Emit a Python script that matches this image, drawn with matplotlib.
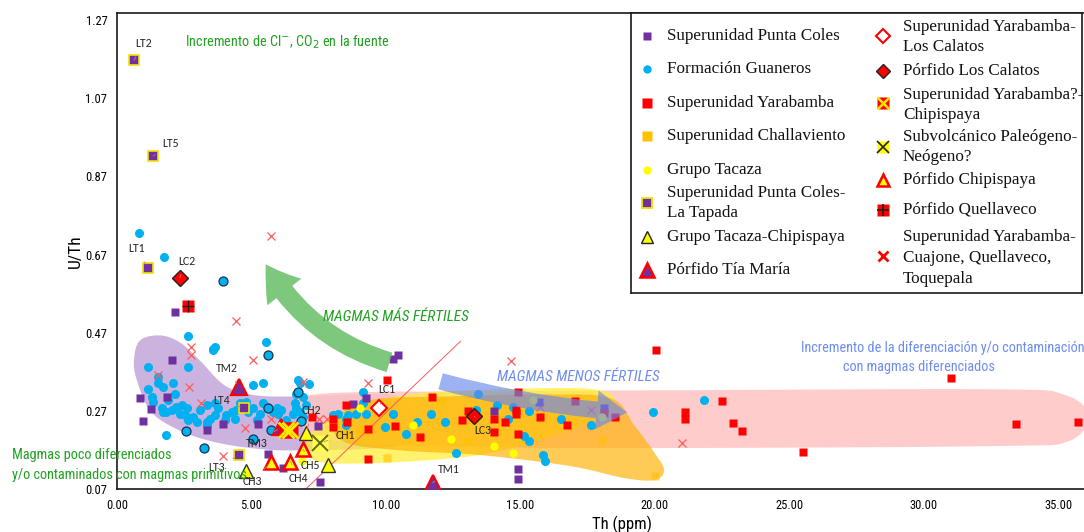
import numpy as np
import matplotlib
matplotlib.use("Agg")
import matplotlib.pyplot as plt
from matplotlib.patches import Polygon, FancyArrowPatch
from matplotlib import font_manager

# ---------------------------------------------------------------- data (Th ppm, U/Th)
pc_th = [0.85, 0.97, 1.26, 2.04, 2.15, 1.86, 3.34, 3.93, 5.23, 6.12, 5.60, 6.16, 7.54,
         7.46, 8.76, 9.24, 10.25, 10.43, 14.03, 15.70, 18.11, 14.92, 14.92]
pc_uth = [0.302, 0.243, 0.274, 0.399, 0.524, 0.305, 0.221, 0.236, 0.236, 0.228, 0.159,
          0.124, 0.088, 0.231, 0.287, 0.302, 0.402, 0.412, 0.269, 0.292, 0.277, 0.121, 0.096]

gu_th = [1.14, 1.53, 1.53, 1.16, 1.29, 1.35, 1.72, 2.09, 2.15, 1.90, 2.21, 2.40, 1.66, 1.72,
         1.84, 2.03, 2.34, 2.52, 2.59, 2.65, 2.83, 2.96, 3.08, 3.33, 3.64, 3.33, 3.33, 3.45,
         3.64, 3.76, 4.01, 4.07, 4.26, 4.38, 4.44, 4.57, 4.81, 4.87, 5.06, 5.19, 5.31, 5.43,
         5.56, 5.43, 5.06, 5.80, 5.93, 5.99, 6.11, 6.30, 6.54, 6.61, 6.67, 6.79, 6.73, 6.92,
         7.04, 6.67, 6.79, 6.92, 1.84, 3.57, 0.83, 1.74, 2.65, 3.64, 3.58, 5.53, 2.65, 7.14,
         8.03, 8.22, 8.53, 8.59, 8.53, 9.14, 9.14, 9.27, 8.90, 10.26, 10.75, 11.68, 12.18,
         12.61, 13.41, 14.12, 14.71, 15.33, 14.53, 15.14, 15.33, 15.82, 15.92, 16.51, 17.62,
         19.91, 9.95, 11.15, 13.33, 21.83]
gu_uth = [0.382, 0.356, 0.340, 0.327, 0.305, 0.293, 0.331, 0.340, 0.314, 0.297, 0.280, 0.284,
          0.276, 0.267, 0.267, 0.272, 0.263, 0.259, 0.276, 0.246, 0.254, 0.242, 0.272, 0.284,
          0.289, 0.242, 0.233, 0.250, 0.259, 0.276, 0.246, 0.259, 0.267, 0.250, 0.272, 0.289,
          0.293, 0.267, 0.276, 0.246, 0.263, 0.289, 0.280, 0.340, 0.335, 0.267, 0.276, 0.263,
          0.272, 0.246, 0.263, 0.289, 0.314, 0.340, 0.348, 0.305, 0.284, 0.276, 0.267, 0.254,
          0.208, 0.425, 0.725, 0.664, 0.461, 0.433, 0.428, 0.446, 0.382, 0.338, 0.259, 0.263,
          0.250, 0.259, 0.233, 0.318, 0.289, 0.263, 0.263, 0.261, 0.212, 0.263, 0.242, 0.161,
          0.314, 0.284, 0.280, 0.270, 0.248, 0.205, 0.193, 0.157, 0.141, 0.250, 0.233, 0.267,
          0.229, 0.242, 0.272, 0.299]
gu_out_th = [2.56, 3.24, 5.06, 5.74, 5.62, 6.73, 6.83, 5.62, 3.95]
gu_out_uth = [0.218, 0.174, 0.199, 0.220, 0.276, 0.318, 0.244, 0.412, 0.601]

ya_th = [10.03, 8.53, 7.25, 8.03, 8.03, 8.56, 9.33, 10.32, 11.25, 11.72, 9.33, 13.04, 12.83,
         14.92, 14.03, 14.44, 14.84, 14.84, 15.73, 16.72, 14.03, 14.92, 18.51, 17.04, 18.11,
         20.03, 21.12, 21.12, 22.51, 22.91, 23.22, 25.51, 31.01, 33.42, 35.71]
ya_uth = [0.350, 0.286, 0.253, 0.250, 0.229, 0.242, 0.223, 0.231, 0.203, 0.305, 0.146, 0.270,
          0.246, 0.317, 0.250, 0.242, 0.272, 0.261, 0.253, 0.235, 0.215, 0.212, 0.254, 0.294,
          0.264, 0.425, 0.267, 0.250, 0.294, 0.240, 0.219, 0.165, 0.355, 0.236, 0.242]

ch_th = [12.05, 10.02, 13.04, 18.03, 20.01, 9.02]
ch_uth = [0.292, 0.150, 0.192, 0.195, 0.104, 0.222]

ta_th = [9.02, 11.00, 12.42, 6.86, 14.03, 14.71, 15.48, 18.03]
ta_uth = [0.277, 0.235, 0.199, 0.142, 0.180, 0.161, 0.297, 0.253]

lt_th = [0.63, 1.34, 1.15, 4.73, 4.53]
lt_uth = [1.167, 0.922, 0.636, 0.277, 0.157]

tc_th = [4.81, 7.04, 7.84]
tc_uth = [0.116, 0.213, 0.131]

tm_th = [4.53, 11.74, 6.09]
tm_uth = [0.331, 0.086, 0.228]

ylc_th = [9.73]
ylc_uth = [0.277]

plc_th = [2.34, 13.29]
plc_uth = [0.611, 0.256]

ych_th = [6.30, 6.45]
ych_uth = [0.221, 0.221]

sv_th = [7.54]
sv_uth = [0.188]

pch_th = [5.74, 6.45, 6.92]
pch_uth = [0.140, 0.140, 0.172]

pq_th = [2.65]
pq_uth = [0.538]

cq_th = [5.74, 4.44, 2.74, 2.74, 5.04, 1.53, 2.68, 3.14, 4.75, 5.74, 6.92, 3.95, 7.82, 9.33,
         7.51, 14.63, 15.74, 17.62, 21.00]
cq_uth = [0.718, 0.499, 0.433, 0.412, 0.399, 0.361, 0.331, 0.290, 0.225, 0.249, 0.344, 0.154,
          0.248, 0.341, 0.248, 0.397, 0.280, 0.273, 0.188]

x_ticks = [0, 5, 10, 15, 20, 25, 30, 35]
y_ticks = [0.07, 0.27, 0.47, 0.67, 0.87, 1.07, 1.27]

# ---------------------------------------------------------------- fonts / colours
names = {f.name for f in font_manager.fontManager.ttflist}


def pick(*cands):
    for c in cands:
        if c in names:
            return c
    return "DejaVu Sans"


SANS = pick("Liberation Sans Narrow", "Arial Narrow", "Roboto Condensed", "PT Sans Narrow",
            "Archivo Narrow", "Liberation Sans")
SERIF = pick("Liberation Serif", "Tinos", "DejaVu Serif")
LBL = pick("Carlito", "Lato", "DejaVu Sans")

PURPLE = "#7030A0"
CYAN = "#00B0F0"
RED = "#FF0000"
ORANGE = "#FFC000"
YELLOW = "#FFFF00"
GREEN_TXT = "#21A121"
BLUE_TXT = "#6E8DF0"
NOTE_FS = 10.3

fig = plt.figure(figsize=(10.84, 5.32), dpi=100)
ax = fig.add_axes([117 / 1084, 43 / 532, 967 / 1084, 476 / 532])
ax.set_xlim(0, 35.95)
ax.set_ylim(0.07, 1.288)


def smooth_closed(pts, n=24):
    p = np.asarray(pts, float)
    N = len(p)
    t = np.linspace(0, 1, n, endpoint=False)[:, None]
    segs = []
    for i in range(N):
        p0, p1, p2, p3 = p[i - 1], p[i], p[(i + 1) % N], p[(i + 2) % N]
        segs.append(0.5 * (2 * p1 + (-p0 + p2) * t + (2 * p0 - 5 * p1 + 4 * p2 - p3) * t ** 2
                           + (-p0 + 3 * p1 - 3 * p2 + p3) * t ** 3))
    return np.vstack(segs)


# compositional fields drawn behind the samples
punta_field = [(0.63, 0.399), (0.85, 0.450), (1.60, 0.463), (2.34, 0.445), (3.08, 0.399),
               (4.01, 0.335), (5.12, 0.310), (6.79, 0.307), (8.65, 0.312), (10.5, 0.307),
               (11.06, 0.246), (10.5, 0.182), (6.79, 0.169), (4.94, 0.175), (3.34, 0.195),
               (2.08, 0.228), (1.22, 0.272), (0.74, 0.348)]
yara_field = [(6.79, 0.259), (7.35, 0.312), (14.22, 0.320), (21.64, 0.323), (32.78, 0.325),
              (35.19, 0.312), (36.12, 0.259), (35.37, 0.192), (32.78, 0.180), (21.64, 0.175),
              (14.22, 0.177), (7.91, 0.195)]
tacaza_field = [(6.98, 0.182), (7.54, 0.233), (9.02, 0.284), (11.25, 0.315), (14.22, 0.325),
                (17.19, 0.328), (18.37, 0.312), (18.37, 0.277), (17.56, 0.241), (15.70, 0.195),
                (13.47, 0.157), (10.50, 0.139), (7.91, 0.136), (7.09, 0.154)]
challa_field = [(8.09, 0.246), (9.39, 0.297), (12.36, 0.307), (16.07, 0.312), (18.37, 0.302),
                (19.23, 0.233), (19.97, 0.164), (20.34, 0.118), (19.97, 0.093), (18.86, 0.098),
                (16.82, 0.129), (13.47, 0.157), (10.50, 0.169), (8.46, 0.190)]

for pts, col, a, z in [(punta_field, "#C4A6DA", 0.85, 1.0),
                       (yara_field, "#FFC4C4", 0.85, 1.1),
                       (tacaza_field, "#FFEE33", 0.72, 1.2),
                       (challa_field, "#FFB000", 0.66, 1.3)]:
    ax.add_patch(Polygon(smooth_closed(pts), closed=True, facecolor=col, edgecolor="none",
                         alpha=a, zorder=z))

ax.plot([7.02, 12.77], [0.07, 0.448], color="#FF5A5A", lw=0.7, zorder=2)

# ---------------------------------------------------------------- samples
ax.plot(ch_th, ch_uth, "s", ms=6, color=ORANGE, alpha=0.6, mec="none", zorder=1.5)
ax.plot(gu_th, gu_uth, "o", ms=6.5, color=CYAN, mec="none", zorder=3)
ax.plot(gu_out_th, gu_out_uth, "o", ms=6.5, color=CYAN, mec="#1A3550", mew=0.9, zorder=3)
ax.plot(cq_th, cq_uth, "x", ms=6, color="#FF5A5A", mew=0.9, zorder=3)
ax.plot(pc_th, pc_uth, "s", ms=5.5, color=PURPLE, mec="none", zorder=3)
ax.plot(ya_th, ya_uth, "s", ms=6, color=RED, mec="none", zorder=3)
ax.plot(ta_th, ta_uth, "o", ms=6, color=YELLOW, mec="none", zorder=3)
ax.plot(lt_th, lt_uth, "s", ms=6.5, color=PURPLE, mec="#F2E200", mew=1.2, zorder=3.2)
ax.plot(tc_th, tc_uth, "^", ms=10, color=YELLOW, mec="#333333", mew=1.0, zorder=3.3)
ax.plot(pch_th, pch_uth, "^", ms=10, color=YELLOW, mec=RED, mew=1.8, zorder=3.3)
ax.plot(tm_th, tm_uth, "^", ms=11, color=PURPLE, mec=RED, mew=1.6, zorder=3.3)
ax.plot(ych_th, ych_uth, "s", ms=12, color=RED, mec="none", zorder=3.4)
ax.plot(ych_th, ych_uth, "x", ms=12, color="#FFE800", mew=2, zorder=3.5)
ax.plot(sv_th, sv_uth, "s", ms=11, color="#FFFF50", mec="none", zorder=3.4)
ax.plot(sv_th, sv_uth, "x", ms=11, color="#5E6B10", mew=1.4, zorder=3.5)
ax.plot(ylc_th, ylc_uth, "D", ms=8, mfc="white", mec=RED, mew=1.5, zorder=3.4)
ax.plot(plc_th, plc_uth, "D", ms=8.5, color=RED, mec="#222222", mew=1.0, zorder=3.4)
ax.plot(pq_th, pq_uth, "s", ms=8, color=RED, mec="none", zorder=3.4)
ax.plot(pq_th, pq_uth, "+", ms=8, color="#222222", mew=1.0, zorder=3.5)

# ---------------------------------------------------------------- trend arrows
green_arrow = FancyArrowPatch((10.13, 0.394), (5.53, 0.645),
                              connectionstyle="arc3,rad=-0.2",
                              arrowstyle="simple,head_length=2.4,head_width=3.1,tail_width=1.45",
                              mutation_scale=10, color="#68BF68", alpha=0.85, lw=0,
                              shrinkA=0, shrinkB=0, zorder=4)
ax.add_patch(green_arrow)
blue_arrow = FancyArrowPatch((12.03, 0.3455), (18.97, 0.266),
                             connectionstyle="arc3,rad=0.05",
                             arrowstyle="simple,head_length=2.2,head_width=2.8,tail_width=1.2",
                             mutation_scale=10, color="#6A88EC", alpha=0.65, lw=0,
                             shrinkA=0, shrinkB=0, zorder=4)
ax.add_patch(blue_arrow)

# ---------------------------------------------------------------- sample labels
labels = [("LT2", (0.63, 1.167), (0.97, 1.210)),
          ("LT5", (1.34, 0.922), (2.00, 0.953)),
          ("LT1", (1.15, 0.636), (0.71, 0.685)),
          ("LC2", (2.34, 0.611), (2.60, 0.652)),
          ("TM2", (4.53, 0.331), (4.08, 0.379)),
          ("LT4", (4.73, 0.277), (3.90, 0.297)),
          ("TM3", (6.09, 0.228), (5.20, 0.187)),
          ("LT3", (4.53, 0.157), (3.71, 0.126)),
          ("CH3", (5.74, 0.140), (5.05, 0.090)),
          ("CH4", (6.45, 0.140), (6.76, 0.098)),
          ("CH5", (6.92, 0.172), (7.20, 0.131)),
          ("CH1", (7.54, 0.188), (8.50, 0.208)),
          ("CH2", (7.04, 0.213), (7.24, 0.272)),
          ("LC1", (9.73, 0.277), (10.02, 0.325)),
          ("LC3", (13.29, 0.256), (13.59, 0.220)),
          ("TM1", (11.74, 0.086), (12.32, 0.121))]
for txt, xy, xytext in labels:
    ax.annotate(txt, xy=xy, xytext=xytext, ha="center", va="center", fontsize=8.5,
                family=LBL, color="#262626", zorder=5,
                arrowprops=dict(arrowstyle="-", color="#E07878", lw=0.6,
                                shrinkA=4, shrinkB=3))

# ---------------------------------------------------------------- annotations
ax.text(2.52, 1.213, "Incremento de Cl$^{-}$, CO$_{2}$ en la fuente", color=GREEN_TXT,
        fontsize=NOTE_FS, family=SANS, ha="left", va="center")
ax.text(7.65, 0.509, "MAGMAS MÁS FÉRTILES", color=GREEN_TXT, fontsize=11, family=SANS,
        style="italic", ha="left", va="center", zorder=5)
ax.text(14.14, 0.356, "MAGMAS MENOS FÉRTILES", color=BLUE_TXT, fontsize=11, family=SANS,
        style="italic", ha="left", va="center", zorder=5)
ax.text(30.70, 0.432, "Incremento de la diferenciación y/o contaminación", color=BLUE_TXT,
        fontsize=NOTE_FS, family=SANS, ha="center", va="center")
ax.text(29.80, 0.383, "con magmas diferenciados", color=BLUE_TXT,
        fontsize=NOTE_FS, family=SANS, ha="center", va="center")
ax.text(-3.90, 0.157, "Magmas poco diferenciados", color=GREEN_TXT, fontsize=NOTE_FS,
        family=SANS, ha="left", va="center", clip_on=False, zorder=5)
ax.text(-3.90, 0.106, "y/o contaminados con magmas primitivos", color=GREEN_TXT,
        fontsize=NOTE_FS, family=SANS, ha="left", va="center", clip_on=False, zorder=5)

# ---------------------------------------------------------------- axes styling
for side in ("left", "bottom", "top"):
    ax.spines[side].set_linewidth(1.2)
    ax.spines[side].set_color("#1A1A1A")
ax.spines["right"].set_visible(False)
ax.set_xticks(x_ticks)
ax.set_xticklabels([f"{v:.2f}" for v in x_ticks])
ax.set_yticks(y_ticks)
ax.set_yticklabels([f"{v:.2f}" for v in y_ticks])
ax.tick_params(length=0, labelsize=9, pad=7)
for lab in ax.get_xticklabels() + ax.get_yticklabels():
    lab.set_family(SANS)
ax.set_xlabel("Th (ppm)", family=SANS, fontsize=12)
ax.xaxis.set_label_coords((622 - 117) / 967, -27 / 476)
ax.set_ylabel("U/Th", family=SANS, fontsize=12.5)
ax.yaxis.set_label_coords(-34 / 967, 0.5)

# ---------------------------------------------------------------- legend panel
leg = fig.add_axes([631 / 1084, 1 - 293 / 532, 451 / 1084, 280 / 532])
leg.set_xlim(0, 451)
leg.set_ylim(280, 0)
leg.set_xticks([])
leg.set_yticks([])
for s in leg.spines.values():
    s.set_linewidth(1.2)
    s.set_color("#1A1A1A")

LX, RX = 16, 252
left_entries = [
    (23, 23, "Superunidad Punta Coles", [dict(marker="s", ms=6, color=PURPLE, mec="none")]),
    (56, 56, "Formación Guaneros", [dict(marker="o", ms=6, color=CYAN, mec="none")]),
    (90, 90, "Superunidad Yarabamba", [dict(marker="s", ms=6.5, color=RED, mec="none")]),
    (123, 123, "Superunidad Challaviento",
     [dict(marker="s", ms=7.5, color=ORANGE, mec="none")]),
    (157, 157, "Grupo Tacaza", [dict(marker="o", ms=6, color=YELLOW, mec="none")]),
    (190, 190, "Superunidad Punta Coles-\nLa Tapada",
     [dict(marker="s", ms=7.5, color=PURPLE, mec="#F2E200", mew=1.3)]),
    (224, 224, "Grupo Tacaza-Chipispaya",
     [dict(marker="^", ms=8, color=YELLOW, mec="#222222", mew=1.0)]),
    (257, 257, "Pórfido Tía María", [dict(marker="^", ms=10, color=PURPLE, mec=RED, mew=1.8)]),
]
right_entries = [
    (24, 23, "Superunidad Yarabamba-\nLos Calatos",
     [dict(marker="D", ms=7, mfc="white", mec=RED, mew=1.5)]),
    (58, 58, "Pórfido Los Calatos",
     [dict(marker="D", ms=7.5, color=RED, mec="#222222", mew=1.0)]),
    (92, 90, "Superunidad Yarabamba?-\nChipispaya",
     [dict(marker="s", ms=9, color=RED, mec="none"),
      dict(marker="x", ms=8, color="#FFE800", mew=1.8)]),
    (134, 134, "Subvolcánico Paleógeno-\nNeógeno?",
     [dict(marker="s", ms=9, color=YELLOW, mec="none"),
      dict(marker="x", ms=8, color="#222222", mew=1.2)]),
    (167, 167, "Pórfido Chipispaya",
     [dict(marker="^", ms=9, color=YELLOW, mec=RED, mew=1.8)]),
    (197, 197, "Pórfido Quellaveco",
     [dict(marker="s", ms=9, color=RED, mec="none"),
      dict(marker="+", ms=9, color="#222222", mew=1.2)]),
    (245, 243, "Superunidad Yarabamba-\nCuajone, Quellaveco,\nToquepala",
     [dict(marker="x", ms=6.5, color=RED, mew=2.0)]),
]
for x0, entries in ((LX, left_entries), (RX, right_entries)):
    for ty, my, text, styles in entries:
        for st in styles:
            leg.plot([x0], [my], linestyle="none", **st)
        leg.text(x0 + 20, ty, text, family=SERIF, fontsize=12.3, va="center", ha="left",
                 linespacing=1.38, color="#111111")

fig.savefig("out.png", dpi=100)
